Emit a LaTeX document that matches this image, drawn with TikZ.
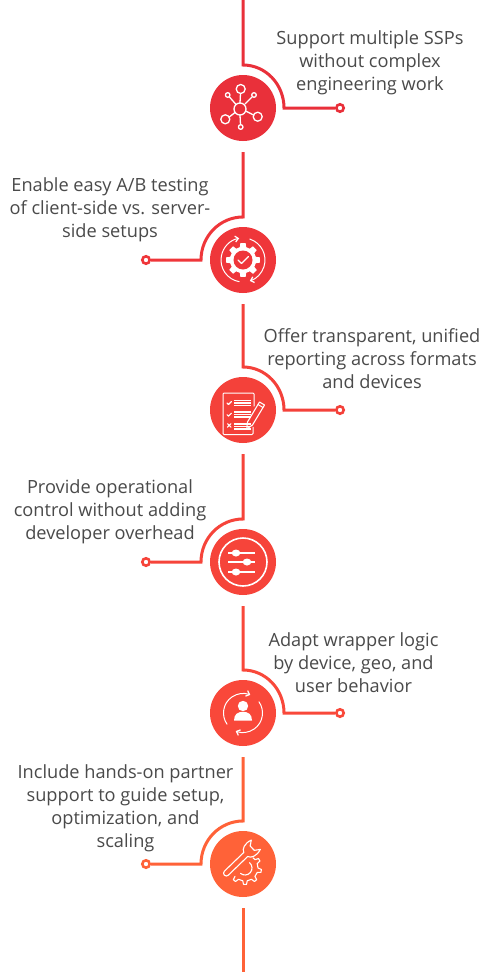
\documentclass[tikz,border=0pt]{standalone}
\usepackage{fontspec}
\setmainfont{Open Sans}
\usetikzlibrary{arrows.meta}
\definecolor{ca}{HTML}{E9303A}
\definecolor{cb}{HTML}{EF363A}
\definecolor{cc}{HTML}{F4413A}
\definecolor{cd}{HTML}{F6443A}
\definecolor{ce}{HTML}{F9483A}
\definecolor{cf}{HTML}{FF6238}
\definecolor{txt}{HTML}{4A4A4A}
\tikzset{
 disc/.style={circle,fill=#1,draw=none,minimum size=66pt,inner sep=0pt},
 dotend/.style={circle,draw=#1,fill=white,line width=2.6pt,minimum size=7.4pt,inner sep=0pt},
 conn/.style={draw=#1,line width=3pt},
 lab/.style={text=txt,align=center,font=\fontsize{18.2}{23}\selectfont,inner sep=0pt},
 ic/.style={draw=white,line width=1.3pt,line cap=round,line join=round},
 barb/.style={-{Straight Barb[length=3.2pt,width=6pt,line width=1.2pt]}}
}
\begin{document}
\begin{tikzpicture}[x=1pt,y=1pt]
\useasboundingbox (0,0) rectangle (482,-972);
\fill[white] (0,0) rectangle (482,-972);
% discs
\node[disc=ca] (c1) at (243,-108) {};
\node[disc=cb] (c2) at (243,-260) {};
\node[disc=cc] (c3) at (243,-410) {};
\node[disc=cd] (c4) at (243,-562) {};
\node[disc=ce] (c5) at (243,-713) {};
\node[disc=cf] (c6) at (243,-864) {};
% line ends
\coordinate (top) at (243,0);
\coordinate (bot) at (243,-972);
\coordinate (a1) at (243,-65);
\coordinate (a2) at (243,-217);
\coordinate (a3) at (243,-367);
\coordinate (a4) at (243,-519);
\coordinate (a5) at (243,-670);
\coordinate (a6) at (243,-821);
\node[dotend=ca,name=d1] at (340,-108) {};
\node[dotend=cb,name=d2] at (146,-260) {};
\node[dotend=cc,name=d3] at (340,-410) {};
\node[dotend=cd,name=d4] at (146,-562) {};
\node[dotend=ce,name=d5] at (340,-713) {};
\node[dotend=cf,name=d6] at (146,-864) {};
% connectors
\draw[conn=ca] (top) -- (a1) arc[start angle=90,end angle=0,x radius=41,y radius=43] -- (d1);
\draw[conn=cb] ([yshift=-11pt]c1.south) -- (a2) arc[start angle=90,end angle=180,x radius=42,y radius=43] -- (d2);
\draw[conn=cc] ([yshift=-11pt]c2.south) -- (a3) arc[start angle=90,end angle=0,x radius=41,y radius=43] -- (d3);
\draw[conn=cd] ([yshift=-11pt]c3.south) -- (a4) arc[start angle=90,end angle=180,x radius=42,y radius=43] -- (d4);
\draw[conn=ce] ([yshift=-11pt]c4.south) -- (a5) arc[start angle=90,end angle=0,x radius=41,y radius=43] -- (d5);
\draw[conn=cf] ([yshift=-11pt]c5.south) -- (a6) arc[start angle=90,end angle=180,x radius=42,y radius=43] -- (d6);
\draw[conn=cf] ([yshift=-11pt]c6.south) -- (bot);
% labels
\node[lab] (t1) at (370,-63) {Support multiple SSPs\\without complex\\engineering work};
\node[lab] (t2) at (110,-209.5) {Enable easy A/B testing\\of client-side vs. server-\\side setups};
\node[lab] (t3) at (372,-359) {Offer transparent, unified\\reporting across formats\\and devices};
\node[lab] (t4) at (110,-511.5) {Provide operational\\control without adding\\developer overhead};
\node[lab] (t5) at (353.5,-662.5) {Adapt wrapper logic\\by device, geo, and\\user behavior};
\node[lab] (t6) at (125.5,-808.5) {Include hands-on partner\\support to guide setup,\\optimization, and\\scaling};
% icon 1
\begin{scope}[shift={(c1.center)}]
\draw[ic] (-3,-1) circle (6);
\draw[ic] (-2.3,19) circle (4.5);
\draw[ic] (14.7,-8.7) circle (4.5);
\draw[ic] (-17.7,-11.3) circle (4.5);
\draw[ic] (-15.3,13) circle (2.3);
\draw[ic] (11,13) circle (2.3);
\draw[ic] (-2.3,-19) circle (2.3);
\draw[ic] (-3,5) -- (-2.5,14.5);
\draw[ic] (2.7,-3) -- (10.5,-7);
\draw[ic] (-8,-4.5) -- (-13.7,-9);
\draw[ic] (-7,3.5) -- (-13.5,11);
\draw[ic] (2,4) -- (9,11);
\draw[ic] (-3,-7) -- (-2.5,-16.5);
\end{scope}
% icon 2
\begin{scope}[shift={(c2.center)}]
\fill[white] (0:17)
 \foreach \a in {0,45,...,315}{ -- (\a+9:17) -- (\a+14:13.2) -- (\a+31:13.2) -- (\a+36:17) } -- cycle;
\fill[cb] (0,0) circle (9.5);
\draw[ic,line width=1.4pt] (-5,0) -- (-1.5,-3.5) -- (5.5,3.5);
\draw[ic,line width=1pt,barb] (-100:22) arc[start angle=-100,end angle=-260,radius=22];
\draw[ic,line width=1pt,barb] (72:22) arc[start angle=72,end angle=-72,radius=22];
\end{scope}
% icon 3
\begin{scope}[shift={(c3.center)}]
\draw[ic,line width=1pt,rounded corners=1pt] (10,-17) -- (10,-24.5) -- (-20,-24.5) -- (-20,17) -- (11,17) -- (11,4);
\foreach \y in {9.5,7,4.5,-2,-4.5,-7,-14,-16.5,-19}{
 \draw[white,line width=1.1pt] (-9,\y) -- (8,\y);}
\draw[ic,line width=1.1pt] (-16,7) -- (-14.5,5.5) -- (-11.5,8.5);
\draw[ic,line width=1.1pt] (-16,-4.7) -- (-14.5,-6.2) -- (-11.5,-3.2);
\draw[ic,line width=1.1pt] (-15.5,-13.7) -- (-12,-17.2) (-15.5,-17.2) -- (-12,-13.7);
\draw[ic,line width=1.1pt] (3.7,-19) -- (4.5,-12) -- (16.5,8) -- (21.5,5) -- (9.5,-15) -- cycle;
\draw[ic,line width=1pt] (15,5.5) -- (20,2.5);
\end{scope}
% icon 4
\begin{scope}[shift={(c4.center)}]
\draw[white,line width=1.6pt] (0,0) circle (24);
\foreach \y/\k in {9/-7,0/4,-10/-7}{
 \draw[white,line width=1.2pt] (-15,\y) -- (12,\y);
 \fill[white] (\k,\y) ellipse (4.3 and 3.5);}
\end{scope}
% icon 5
\begin{scope}[shift={(c5.center)}]
\fill[white] (0,7) circle (5.2);
\fill[white] (-9,-7.5) .. controls (-9,-1) and (-5,1.2) .. (0,1.2) .. controls (5,1.2) and (9,-1) .. (9,-7.5) -- cycle;
\draw[ic,line width=1pt,barb] (215:19.5) arc[start angle=215,end angle=68,radius=19.5];
\draw[ic,line width=1pt,barb] (35:19.5) arc[start angle=35,end angle=-112,radius=19.5];
\end{scope}
% icon 6
\begin{scope}[shift={(c6.center)}]
\begin{scope}[shift={(2,-4)}]
\draw[ic,line width=1.1pt] (50:7) arc[start angle=50,end angle=-130,radius=7];
\draw[ic,line width=1.1pt] (52:13)
 \foreach \a in {30,-10,-50,-90,-130}{ -- (\a+10:13) -- (\a+5:16.5) -- (\a-5:16.5) -- (\a-10:13) };
\end{scope}
\begin{scope}[shift={(-3,4)},rotate=44]
\fill[cf] (-24,-4) rectangle (10,4);
\draw[ic,line width=1.1pt] (-19,-2.8) arc[start angle=270,end angle=90,radius=2.8] -- (8,2.8)
 .. controls (9,6.5) and (15,9) .. (22,6.5) -- (17,3) -- (17,-3) -- (22,-6.5)
 .. controls (15,-9) and (9,-6.5) .. (8,-2.8) -- cycle;
\end{scope}
\end{scope}
\end{tikzpicture}
\end{document}
